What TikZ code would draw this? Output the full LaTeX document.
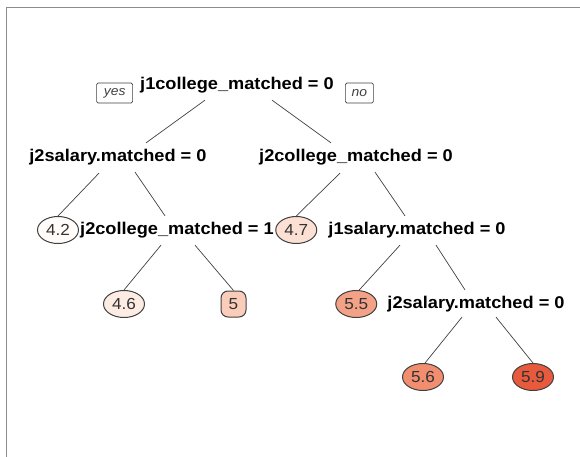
\documentclass[tikz,border=0pt]{standalone}
\usepackage{fontspec}
\setmainfont{Liberation Sans}[FakeStretch=1.07]
\usetikzlibrary{positioning}
\usetikzlibrary{shapes.geometric}

\definecolor{linegray}{HTML}{404040}
\definecolor{framegray}{HTML}{8C8C8C}
\definecolor{fillA}{HTML}{FFFCFA}
\definecolor{fillB}{HTML}{FCECE3}
\definecolor{fillC}{HTML}{FBE0D3}
\definecolor{fillD}{HTML}{F9CDB9}
\definecolor{fillE}{HTML}{F3A287}
\definecolor{fillF}{HTML}{F18E70}
\definecolor{fillG}{HTML}{E75A3D}

\tikzset{
	split/.style = {inner sep = 0pt, font = \fontsize{17}{19}\selectfont\bfseries},
	leaf/.style = {ellipse, draw = linegray, line width = 1pt, inner sep = 0pt, minimum width = 41pt, minimum height = 27pt, text = black!80, font = \fontsize{16}{18}\selectfont},
	leafbox/.style = {rectangle, rounded corners = 7pt, draw = linegray, line width = 1pt, inner sep = 0pt, minimum width = 25pt, minimum height = 26pt, text = black!80, font = \fontsize{16}{18}\selectfont},
	answer/.style = {rectangle, rounded corners = 1.5pt, draw = linegray, line width = .7pt, inner sep = 2pt, minimum height = 20pt, text = black!75, font = \fontsize{13}{15}\selectfont\itshape},
	branch/.style = {-, draw = linegray, line width = .7pt}
}

\begin{document}
\begin{tikzpicture}[x = 1pt, y = -1pt]
	\useasboundingbox (0,0) rectangle (580,457);
	\draw[framegray, line width = 1.6pt] (6.5,457) -- (6.5,7.5) -- (580,7.5);

	\node[split] (A) at (237,85) {j1college\_matched = 0};
	\node[answer, left = 7pt of A, yshift = -8pt, minimum width = 36pt] (Y) {yes};
	\node[answer, right = 11pt of A, yshift = -8pt, minimum width = 28pt] (N) {no};
	\node[split] (B) at (118,157) {j2salary.matched = 0};
	\node[split] (C) at (356,157) {j2college\_matched = 0};
	\node[split] (D) at (177,230) {j2college\_matched = 1};
	\node[leaf, fill = fillA, left = 1pt of D] (E) {4.2};
	\node[split] (F) at (417,230) {j1salary.matched = 0};
	\node[leaf, fill = fillC, left = 11pt of F] (G) {4.7};
	\node[leaf, fill = fillB] (H) at (124,304) {4.6};
	\node[leafbox, fill = fillD] (I) at (233.5,304) {5};
	\node[split] (J) at (476,304) {j2salary.matched = 0};
	\node[leaf, fill = fillE, left = 10pt of J] (K) {5.5};
	\node[leaf, fill = fillF] (L) at (423,377) {5.6};
	\node[leaf, fill = fillG] (M) at (533,377) {5.9};

	\path ([xshift = -32pt, yshift = -7pt]A.south) edge[branch] ([xshift = 28pt, yshift = 6pt]B.north);
	\path ([xshift = 35pt, yshift = -7pt]A.south) edge[branch] ([xshift = -25pt, yshift = 6pt]C.north);
	\path ([xshift = -19pt, yshift = -8pt]B.south) edge[branch] (E.north);
	\path ([xshift = 17pt, yshift = -7pt]B.south) edge[branch] ([xshift = -12pt, yshift = 6pt]D.north);
	\path ([xshift = -16pt, yshift = -8pt]C.south) edge[branch] (G.north);
	\path ([xshift = 19pt, yshift = -7pt]C.south) edge[branch] ([xshift = -12pt, yshift = 6pt]F.north);
	\path ([xshift = -16pt, yshift = -7pt]D.south) edge[branch] (H.north);
	\path ([xshift = 18pt, yshift = -7pt]D.south) edge[branch] (I.north);
	\path ([xshift = -17pt, yshift = -7pt]F.south) edge[branch] ([xshift = 3pt]K.north);
	\path ([xshift = 19pt, yshift = -7pt]F.south) edge[branch] ([xshift = -11pt, yshift = 6pt]J.north);
	\path ([xshift = -14pt, yshift = -5pt]J.south) edge[branch] ([xshift = 2pt]L.north);
	\path ([xshift = 20pt, yshift = -5pt]J.south) edge[branch] (M.north);
\end{tikzpicture}
\end{document}
